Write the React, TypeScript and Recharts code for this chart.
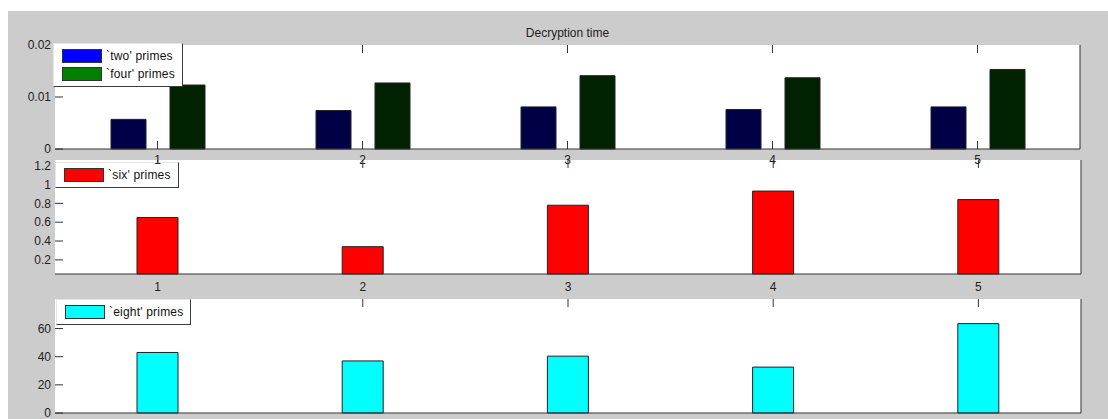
import React from 'react';
import { BarChart, Bar, XAxis, YAxis, CartesianGrid, Legend } from 'recharts';

// decryption time per run, one array per prime count
const runs = ['1', '2', '3', '4', '5'];
const twoPrimes = [0.0057, 0.0074, 0.0081, 0.0076, 0.0081];
const fourPrimes = [0.0123, 0.0127, 0.0141, 0.0137, 0.0153];
const sixPrimes = [0.65, 0.34, 0.78, 0.93, 0.84];
const eightPrimes = [43, 37, 40.4, 32.6, 63.5];

const smallTicks = [0, 0.01, 0.02];
const sixTicks = [0.2, 0.4, 0.6, 0.8, 1, 1.2];
const eightTicks = [0, 20, 40, 60];

const seriesOrder = ['two', 'four', 'six', 'eight'];
const seriesNames: Record<string, string> = {
  two: "`two' primes",
  four: "`four' primes",
  six: "`six' primes",
  eight: "`eight' primes",
};

// legend swatches use the base colours, bars render darker
const swatch: Record<string, string> = {
  two: '#0000ff',
  four: '#008000',
  six: '#ff0000',
  eight: '#00ffff',
};

const topData = runs.map((run, i) => ({ run, two: twoPrimes[i], four: fourPrimes[i] }));
const sixData = runs.map((run, i) => ({ run, six: sixPrimes[i] }));
const eightData = runs.map((run, i) => ({ run, eight: eightPrimes[i] }));

const FONT = '"Liberation Sans", Arial, Helvetica, sans-serif';
const tickText = { fontSize: 12, fill: '#222' };
const lineCol = '#333';

// tick marks only, no label
const noLabel = () => <g />;

const LegendBox = ({ payload }: any) => {
  const items = [...(payload || [])].sort(
    (a: any, b: any) => seriesOrder.indexOf(a.dataKey) - seriesOrder.indexOf(b.dataKey)
  );
  return (
    <div
      style={{
        background: '#fff',
        borderTop: '1px solid #e6e6e6',
        borderLeft: '1px solid #e6e6e6',
        borderRight: '1px solid #3c3c3c',
        borderBottom: '1px solid #3c3c3c',
        padding: '3px 7px 3px 8px',
        fontFamily: FONT,
        fontSize: 12,
        color: '#111',
      }}
    >
      {items.map((p: any) => (
        <div key={p.dataKey} style={{ display: 'flex', alignItems: 'center', height: 18 }}>
          <span
            style={{
              display: 'inline-block',
              width: 38,
              height: 12,
              background: swatch[p.dataKey],
              border: '1px solid #333',
              marginRight: 4,
            }}
          />
          <span style={{ whiteSpace: 'nowrap', letterSpacing: 0.2 }}>{p.value}</span>
        </div>
      ))}
    </div>
  );
};

const legendPos = (left: number, top: number) => ({ left, top, width: 'auto', height: 'auto' });

export default function App() {
  return (
    <>
      <style>{'body{margin:0;overflow:hidden}'}</style>
      <div
        style={{
          position: 'absolute',
          left: 8,
          top: 11,
          width: 1100,
          height: 408,
          background: '#cccccc',
          overflow: 'hidden',
        }}
      >
        {/* eight primes */}
        <div style={{ position: 'absolute', left: 0, top: 278 }}>
          <BarChart
            width={1100}
            height={144}
            data={eightData}
            margin={{ top: 9, right: 26, bottom: 0, left: 0 }}
            style={{ fontFamily: FONT }}
          >
            <CartesianGrid horizontal={false} vertical={false} fill="#fff" />
            <XAxis xAxisId="top" orientation="top" dataKey="run" height={1} tick={noLabel} axisLine={false}
              tickSize={-8} stroke={lineCol} interval={0} />
            <XAxis dataKey="run" height={20} tick={noLabel} tickLine={false} tickSize={0}
              stroke={lineCol} interval={0} />
            <YAxis width={47} domain={[0, 81]} ticks={eightTicks} tick={tickText} axisLine={false}
              tickSize={-8} tickMargin={12} stroke={lineCol} interval={0} />
            <YAxis yAxisId="right" orientation="right" width={1} domain={[0, 81]} ticks={eightTicks}
              tick={noLabel} tickSize={-8} stroke={lineCol} interval={0} />
            <Legend layout="vertical" align="center" verticalAlign="middle" content={<LegendBox />}
              wrapperStyle={legendPos(48, 10)} />
            <Bar dataKey="eight" name={seriesNames.eight} fill="#00ffff" stroke="#222" barSize={41}
              isAnimationActive={false} />
          </BarChart>
        </div>

        {/* six primes */}
        <div style={{ position: 'absolute', left: 0, top: 140 }}>
          <BarChart
            width={1100}
            height={150}
            data={sixData}
            margin={{ top: 8, right: 26, bottom: 7, left: 0 }}
            style={{ fontFamily: FONT }}
          >
            <CartesianGrid horizontal={false} vertical={false} fill="#fff" />
            <XAxis xAxisId="top" orientation="top" dataKey="run" height={1} tick={noLabel} axisLine={false}
              tickSize={-8} stroke={lineCol} interval={0} />
            <XAxis dataKey="run" height={20} tick={tickText} tickLine={false} tickSize={0} tickMargin={8}
              stroke={lineCol} interval={0} />
            <YAxis width={47} domain={[0.05, 1.26]} ticks={sixTicks} tick={tickText} axisLine={false}
              tickSize={-8} tickMargin={12} stroke={lineCol} interval={0} />
            <YAxis yAxisId="right" orientation="right" width={1} domain={[0.05, 1.26]} ticks={sixTicks}
              tick={noLabel} tickSize={-8} stroke={lineCol} interval={0} />
            <Legend layout="vertical" align="center" verticalAlign="middle" content={<LegendBox />}
              wrapperStyle={legendPos(47, 11)} />
            <Bar dataKey="six" name={seriesNames.six} fill="#ff0000" stroke="#222" barSize={41}
              isAnimationActive={false} />
          </BarChart>
        </div>

        {/* two / four primes */}
        <div style={{ position: 'absolute', left: 0, top: 0 }}>
          <BarChart
            width={1100}
            height={160}
            data={topData}
            margin={{ top: 33, right: 27, bottom: 2, left: 0 }}
            barGap={24}
            style={{ fontFamily: FONT }}
          >
            <CartesianGrid horizontal={false} vertical={false} fill="#fff" />
            <XAxis xAxisId="top" orientation="top" dataKey="run" height={1} tick={noLabel} axisLine={false}
              tickSize={-8} stroke={lineCol} interval={0} />
            <XAxis dataKey="run" height={20} tick={tickText} tickSize={-8} tickMargin={14}
              stroke={lineCol} interval={0} />
            <YAxis width={47} domain={[0, 0.02]} ticks={smallTicks} tick={tickText} axisLine={false}
              tickSize={-8} tickMargin={12} stroke={lineCol} interval={0} />
            <YAxis yAxisId="right" orientation="right" width={1} domain={[0, 0.02]} ticks={smallTicks}
              tick={noLabel} tickSize={-8} stroke={lineCol} interval={0} />
            <Legend layout="vertical" align="center" verticalAlign="middle" content={<LegendBox />}
              wrapperStyle={legendPos(45, 32)} />
            <Bar dataKey="two" name={seriesNames.two} fill="#000046" stroke="#222" barSize={35}
              isAnimationActive={false} />
            <Bar dataKey="four" name={seriesNames.four} fill="#002200" stroke="#222" barSize={35}
              isAnimationActive={false} />
          </BarChart>
        </div>

        {/* figure title, centred over the plot area */}
        <div
          style={{
            position: 'absolute',
            left: 47,
            width: 1025,
            top: 15,
            textAlign: 'center',
            fontFamily: FONT,
            fontSize: 12,
            color: '#222',
          }}
        >
          Decryption time
        </div>
      </div>
    </>
  );
}
